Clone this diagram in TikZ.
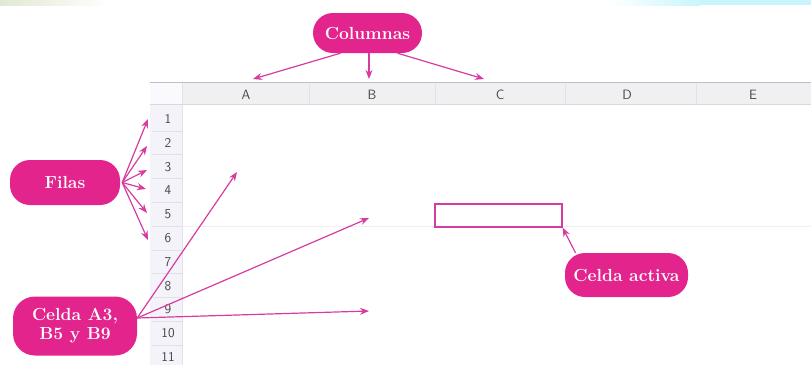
\documentclass[tikz,border=0pt]{standalone}
\usetikzlibrary{arrows.meta}
\definecolor{mag}{RGB}{226,36,140}
\definecolor{arr}{RGB}{214,60,160}
\definecolor{hdr}{RGB}{240,240,242}
\definecolor{rowhdr}{RGB}{244,243,250}
\definecolor{gridc}{RGB}{225,225,232}
\definecolor{txtg}{RGB}{70,70,70}
\definecolor{cyanfade}{RGB}{200,245,252}
\definecolor{greenfade}{RGB}{225,232,210}
\tikzset{
  callout/.style={fill=mag, rounded corners=20pt, text=white, font=\bfseries\fontsize{17.5}{20}\selectfont, align=center, inner sep=0pt},
  pointer/.style={draw=arr, line width=1.2pt, -{Stealth[length=9pt,width=7pt]}},
  colhead/.style={font=\sffamily\fontsize{13.5}{15}\selectfont, text=txtg},
  rowhead/.style={font=\sffamily\fontsize{13.5}{15}\selectfont, text=txtg},
}
\begin{document}
\begin{tikzpicture}[x=1pt,y=-1pt]
\useasboundingbox (0,0) rectangle (811,365);
% top faint strips
\fill[left color=greenfade, right color=white] (0,0) rectangle (110,5);
\fill[left color=white, right color=cyanfade] (610,0) rectangle (700,5);
\fill[cyanfade] (700,0) rectangle (811,5);
% header row
\fill[hdr] (150,82) rectangle (811,104);
\fill[rowhdr] (150,104) rectangle (182,365);
\fill[rowhdr!80!blue!10] (150,82) rectangle (182,104);
\draw[gray!50, line width=0.8pt] (150,82) -- (811,82);
\draw[gray!30] (150,104) -- (811,104);
\foreach \xx in {182,309,435,565,696} \draw[gridc] (\xx,84) -- (\xx,104);
\draw[gridc] (182,104) -- (182,365);
% faint grid
\foreach \i in {1,...,11} {
  \pgfmathsetmacro{\yy}{107+23.8*\i}
  \draw[gridc, line width=0.4pt] (152,\yy) -- (182,\yy);
}
\draw[gray!12] (182,226.5) -- (811,226.5);
% column letters
\node[colhead] (cA) at (246,95) {A};
\node[colhead] (cB) at (372,95) {B};
\node[colhead] (cC) at (500,95) {C};
\node[colhead] (cD) at (627,95) {D};
\node[colhead] (cE) at (753,95) {E};
% row numbers
\foreach \i in {1,...,11} {
  \node[rowhead] (r\i) at (168,{119+23.8*(\i-1)}) {\i};
}
% anchor points for arrows
\coordinate (tA) at (253,79);
\coordinate (tB) at (369,79);
\coordinate (tC) at (484,79);
\coordinate (f1) at (148,119);
\coordinate (f2) at (147,146);
\coordinate (f3) at (147,170);
\coordinate (f4) at (146,189);
\coordinate (f5) at (147,213);
\coordinate (f6) at (148,240);
\coordinate (cA3) at (237,172);
\coordinate (cB5) at (369,218);
\coordinate (cB9) at (369,311);
% active cell
\node[draw=arr, line width=1.2pt, minimum width=127pt, minimum height=23pt, inner sep=0pt] (active) at (498.5,215.5) {};
% callouts
\node[callout, minimum width=109pt, minimum height=40pt] (col) at (367.5,33) {Columnas};
\node[callout, minimum width=110pt, minimum height=45pt] (fil) at (65,182.5) {Filas};
\node[callout, minimum width=124pt, minimum height=59pt, rounded corners=22pt] (cel) at (75,326) {Celda A3,\\[-1pt]B5 y B9};
\node[callout, minimum width=123pt, minimum height=44pt] (act) at (626.5,275) {Celda activa};
% pointers
\draw[pointer] ([xshift=-27pt]col.south) -- (tA);
\draw[pointer] ([xshift=1.5pt]col.south) -- (tB);
\draw[pointer] ([xshift=30pt]col.south) -- (tC);
\foreach \k in {1,...,6} \draw[pointer] ([xshift=2pt]fil.east) -- (f\k);
\draw[pointer] ([yshift=8pt]cel.east) -- (cA3);
\draw[pointer] ([yshift=8pt]cel.east) -- (cB5);
\draw[pointer] ([yshift=8pt]cel.east) -- (cB9);
\draw[pointer] ([xshift=-51pt]act.north) -- (active.south east);
\end{tikzpicture}
\end{document}
